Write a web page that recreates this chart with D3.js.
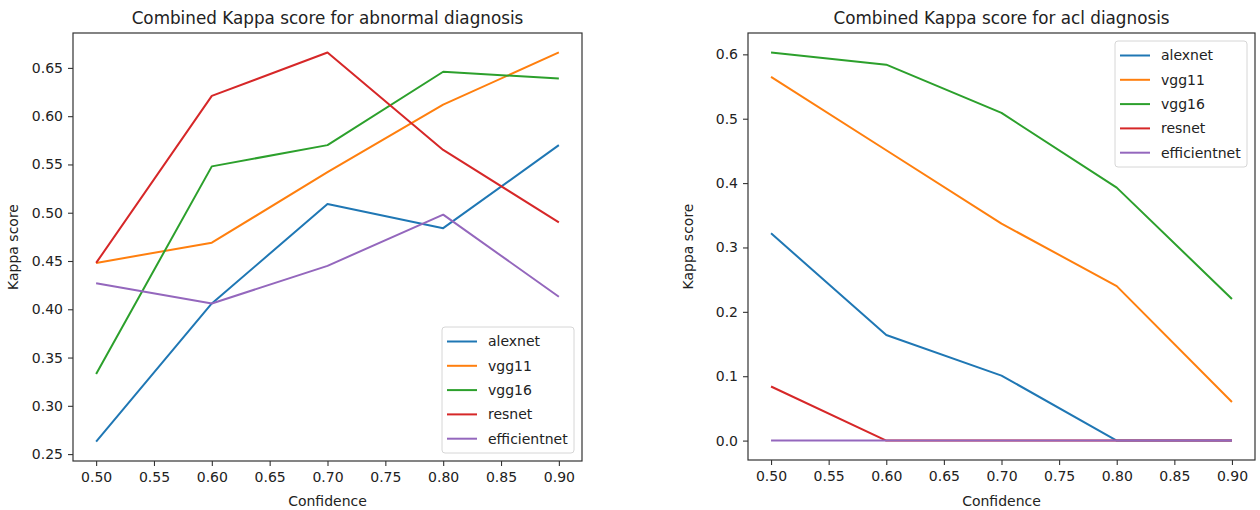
<!DOCTYPE html>
<html>
<head>
<meta charset="utf-8">
<script src="https://cdn.jsdelivr.net/npm/d3@7"></script>
<style>
  body { margin: 0; background: #fff; }
  svg { display: block; font-family: "DejaVu Sans", sans-serif; }
</style>
</head>
<body>
<svg id="chart" width="1260" height="510"></svg>
<script>
// data
const confidence = [0.5, 0.6, 0.7, 0.8, 0.9];
const models = ["alexnet", "vgg11", "vgg16", "resnet", "efficientnet"];
const colors = ["#1f77b4", "#ff7f0e", "#2ca02c", "#d62728", "#9467bd"];

const abnormalAlexnet = [0.263, 0.406, 0.509, 0.484, 0.570];
const abnormalVgg11 = [0.448, 0.469, 0.542, 0.612, 0.666];
const abnormalVgg16 = [0.333, 0.548, 0.570, 0.646, 0.639];
const abnormalResnet = [0.448, 0.621, 0.666, 0.565, 0.490];
const abnormalEfficientnet = [0.427, 0.406, 0.445, 0.498, 0.413];

const aclAlexnet = [0.322, 0.164, 0.101, 0.0, 0.0];
const aclVgg11 = [0.565, 0.451, 0.337, 0.240, 0.060];
const aclVgg16 = [0.603, 0.584, 0.509, 0.393, 0.220];
const aclResnet = [0.084, 0.0, 0.0, 0.0, 0.0];
const aclEfficientnet = [0.0, 0.0, 0.0, 0.0, 0.0];

const xTicks = [0.5, 0.55, 0.6, 0.65, 0.7, 0.75, 0.8, 0.85, 0.9];
const abnormalYTicks = [0.25, 0.3, 0.35, 0.4, 0.45, 0.5, 0.55, 0.6, 0.65];
const aclYTicks = [0, 0.1, 0.2, 0.3, 0.4, 0.5, 0.6];

const svg = d3.select("#chart");

function padded(lo, hi) {
  const m = (hi - lo) * 0.05;
  return [lo - m, hi + m];
}

function panel(opts) {
  const { left, right, top, bottom, title, series, yTicks, yFmt, legendPos } = opts;
  const g = svg.append("g");

  const x = d3.scaleLinear()
    .domain(padded(d3.min(confidence), d3.max(confidence)))
    .range([left, right]);
  const all = series.flat();
  const y = d3.scaleLinear()
    .domain(padded(d3.min(all), d3.max(all)))
    .range([bottom, top]);

  // lines
  const line = d3.line().x((d, i) => x(confidence[i])).y(d => y(d));
  series.forEach((s, i) => {
    g.append("path")
      .datum(s)
      .attr("fill", "none")
      .attr("stroke", colors[i])
      .attr("stroke-width", 2)
      .attr("stroke-linejoin", "round")
      .attr("d", line);
  });

  // axes
  const xAxis = g.append("g")
    .attr("transform", `translate(0,${bottom})`)
    .call(d3.axisBottom(x).tickValues(xTicks).tickFormat(d3.format(".2f")).tickSize(5).tickPadding(6));
  const yAxis = g.append("g")
    .attr("transform", `translate(${left},0)`)
    .call(d3.axisLeft(y).tickValues(yTicks).tickFormat(d3.format(yFmt)).tickSize(5).tickPadding(5));
  [xAxis, yAxis].forEach(a => {
    a.select(".domain").remove();
    a.selectAll(".tick line").attr("stroke", "#333").attr("stroke-width", 1.1);
    a.selectAll(".tick text")
      .attr("fill", "#222")
      .style("font-size", "14px")
      .style("font-family", "DejaVu Sans");
  });

  // frame
  g.append("rect")
    .attr("x", left)
    .attr("y", top)
    .attr("width", right - left)
    .attr("height", bottom - top)
    .attr("fill", "none")
    .attr("stroke", "#333")
    .attr("stroke-width", 1.2);

  // labels
  g.append("text")
    .attr("x", (left + right) / 2)
    .attr("y", 24)
    .attr("text-anchor", "middle")
    .attr("fill", "#222")
    .style("font-size", "16.8px")
    .text(title);

  g.append("text")
    .attr("x", (left + right) / 2)
    .attr("y", 506)
    .attr("text-anchor", "middle")
    .attr("fill", "#222")
    .style("font-size", "14px")
    .text("Confidence");

  const ylx = left - 55;
  g.append("text")
    .attr("transform", `translate(${ylx},${(top + bottom) / 2}) rotate(-90)`)
    .attr("text-anchor", "middle")
    .attr("fill", "#222")
    .style("font-size", "14px")
    .text("Kappa score");

  // legend
  const lw = 132, lh = 126;
  const lx = right - 8 - lw;
  const ly = legendPos === "lower right" ? bottom - 8 - lh : top + 8;
  const lg = g.append("g").attr("transform", `translate(${lx},${ly})`);
  lg.append("rect")
    .attr("width", lw)
    .attr("height", lh)
    .attr("rx", 3)
    .attr("fill", "#fff")
    .attr("fill-opacity", 0.8)
    .attr("stroke", "#d6d6d6");
  models.forEach((m, i) => {
    const cy = 14.5 + i * 24.3;
    lg.append("line")
      .attr("x1", 5).attr("x2", 35)
      .attr("y1", cy).attr("y2", cy)
      .attr("stroke", colors[i])
      .attr("stroke-width", 2);
    lg.append("text")
      .attr("x", 46)
      .attr("y", cy)
      .attr("dy", "0.35em")
      .attr("fill", "#222")
      .style("font-size", "14px")
      .text(m);
  });
}

panel({
  left: 73, right: 582, top: 33, bottom: 461,
  title: "Combined Kappa score for abnormal diagnosis",
  series: [abnormalAlexnet, abnormalVgg11, abnormalVgg16, abnormalResnet, abnormalEfficientnet],
  yTicks: abnormalYTicks, yFmt: ".2f", legendPos: "lower right"
});

panel({
  left: 748, right: 1255, top: 33, bottom: 460,
  title: "Combined Kappa score for acl diagnosis",
  series: [aclAlexnet, aclVgg11, aclVgg16, aclResnet, aclEfficientnet],
  yTicks: aclYTicks, yFmt: ".1f", legendPos: "upper right"
});
</script>
</body>
</html>
